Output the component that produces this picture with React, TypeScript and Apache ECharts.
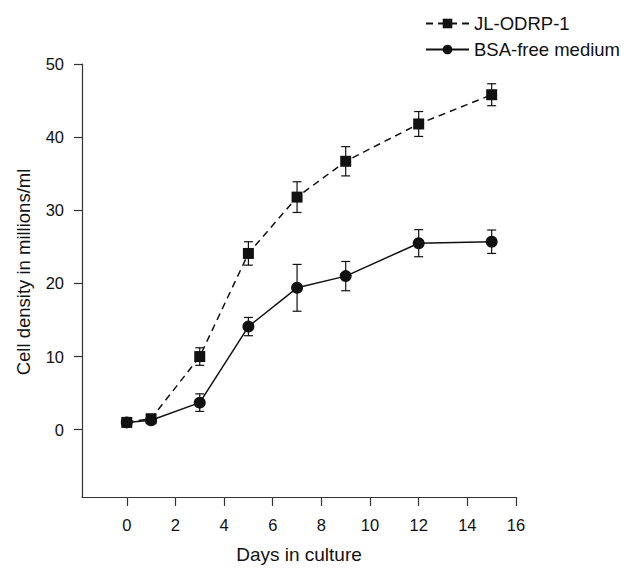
import React, { useEffect, useRef } from "react";
import * as echarts from "echarts";

// Days in culture
const days = [0, 1, 3, 5, 7, 9, 12, 15];
// Cell density (millions/ml), JL-ODRP-1
const jlMean = [1.0, 1.5, 10.0, 24.1, 31.8, 36.7, 41.8, 45.8];
const jlErr = [0, 0, 1.2, 1.6, 2.1, 2.0, 1.7, 1.5];
// Cell density (millions/ml), BSA-free medium
const bsaMean = [1.0, 1.3, 3.7, 14.1, 19.4, 21.0, 25.5, 25.7];
const bsaErr = [0, 0, 1.2, 1.25, 3.2, 2.0, 1.85, 1.6];

const xTicks = [0, 2, 4, 6, 8, 10, 12, 14, 16];
const yTicks = [0, 10, 20, 30, 40, 50];

const FONT = "'Liberation Sans', Arial, Helvetica, sans-serif";
const INK = "#111";

function errorRows(mean: number[], err: number[]) {
  return days
    .map((d, i) => [d, mean[i] - err[i], mean[i] + err[i]])
    .filter((r, i) => err[i] > 0);
}

function errorBarItem(params: any, api: any) {
  const x = api.value(0);
  const lo = api.coord([x, api.value(1)]);
  const hi = api.coord([x, api.value(2)]);
  const cap = 4.5;
  const style = { stroke: INK, lineWidth: 1.2, fill: "none" };
  return {
    type: "group",
    children: [
      { type: "line", shape: { x1: lo[0], y1: lo[1], x2: hi[0], y2: hi[1] }, style },
      { type: "line", shape: { x1: hi[0] - cap, y1: hi[1], x2: hi[0] + cap, y2: hi[1] }, style },
      { type: "line", shape: { x1: lo[0] - cap, y1: lo[1], x2: lo[0] + cap, y2: lo[1] }, style },
    ],
  };
}

export default function App() {
  const ref = useRef<HTMLDivElement>(null);

  useEffect(() => {
    document.body.style.margin = "0";
    if (!ref.current) return;
    const chart = echarts.init(ref.current, null, { renderer: "svg" });
    chart.setOption({
      animation: false,
      backgroundColor: "#fff",
      textStyle: { fontFamily: FONT, color: INK },
      grid: { left: 82, right: 112, top: 64, bottom: 71, containLabel: false },
      legend: {
        orient: "vertical",
        left: 420,
        top: 9,
        itemWidth: 43,
        itemHeight: 12,
        itemGap: 7,
        itemStyle: { borderWidth: 0 },
        textStyle: { fontFamily: FONT, fontSize: 18.5, color: INK },
        data: ["JL-ODRP-1", "BSA-free medium"],
      },
      xAxis: {
        type: "value",
        min: -1.84,
        max: 16,
        splitLine: { show: false },
        axisLine: { onZero: false, lineStyle: { color: "#333", width: 1.2 } },
        axisTick: {
          customValues: xTicks,
          length: 9,
          lineStyle: { color: "#333", width: 1.2 },
        },
        axisLabel: {
          customValues: xTicks,
          margin: 19,
          fontSize: 16.5,
          fontFamily: FONT,
          color: INK,
        },
        name: "Days in culture",
        nameLocation: "middle",
        nameGap: 48,
        nameTextStyle: { fontSize: 19, fontFamily: FONT, color: INK },
      },
      yAxis: {
        type: "value",
        min: -9.2,
        max: 50,
        splitLine: { show: false },
        axisLine: { onZero: false, lineStyle: { color: "#333", width: 1.2 } },
        axisTick: {
          customValues: yTicks,
          length: 8,
          lineStyle: { color: "#333", width: 1.2 },
        },
        axisLabel: {
          customValues: yTicks,
          margin: 18,
          fontSize: 16.5,
          fontFamily: FONT,
          color: INK,
        },
      },
      graphic: [
        {
          type: "text",
          x: 23,
          y: 272,
          rotation: Math.PI / 2,
          style: {
            text: "Cell density in millions/ml",
            fontSize: 18.5,
            fontFamily: FONT,
            fill: INK,
            align: "center",
            verticalAlign: "middle",
          },
        },
      ],
      series: [
        {
          name: "JL-ODRP-1",
          type: "line",
          z: 3,
          data: days.map((d, i) => [d, jlMean[i]]),
          symbol: "rect",
          symbolSize: 11,
          itemStyle: { color: INK },
          lineStyle: { color: INK, width: 1.5, type: [7, 5] },
        },
        {
          name: "BSA-free medium",
          type: "line",
          z: 3,
          data: days.map((d, i) => [d, bsaMean[i]]),
          symbol: "circle",
          symbolSize: 12,
          itemStyle: { color: INK },
          lineStyle: { color: INK, width: 1.5 },
        },
        {
          type: "custom",
          z: 1,
          silent: true,
          renderItem: errorBarItem,
          data: errorRows(jlMean, jlErr),
        },
        {
          type: "custom",
          z: 1,
          silent: true,
          renderItem: errorBarItem,
          data: errorRows(bsaMean, bsaErr),
        },
      ],
    });
    return () => chart.dispose();
  }, []);

  return <div ref={ref} style={{ width: 628, height: 569 }} />;
}
